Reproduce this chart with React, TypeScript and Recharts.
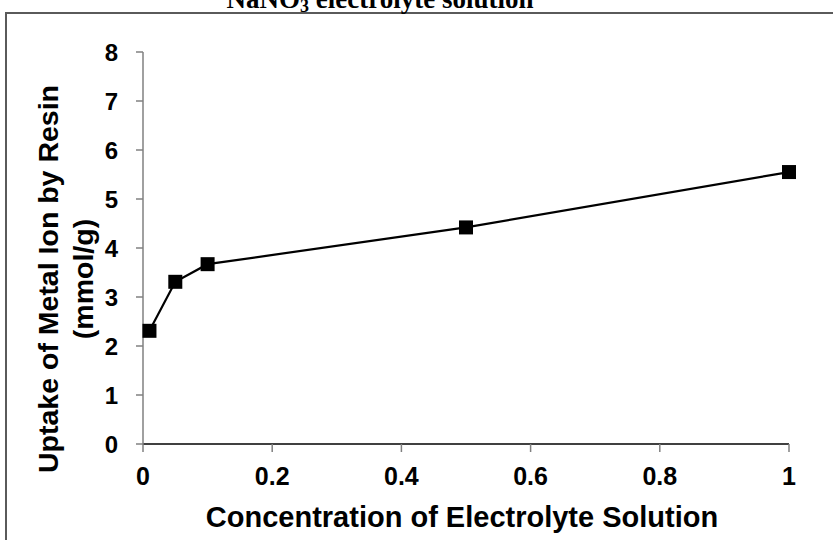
import React from "react";
import { LineChart, Line, XAxis, YAxis, Label } from "recharts";

// concentration of NaNO3 (x) vs uptake in mmol/g (y)
const concentrations = [0.01, 0.05, 0.1, 0.5, 1];
const uptake = [2.31, 3.31, 3.67, 4.42, 5.55];
const xTicks = [0, 0.2, 0.4, 0.6, 0.8, 1];
const yTicks = [0, 1, 2, 3, 4, 5, 6, 7, 8];

const data = concentrations.map((c, i) => ({ conc: c, uptake: uptake[i] }));

const sans = "'Liberation Sans', Arial, sans-serif";
const serif = "'Liberation Serif', 'Times New Roman', serif";

const SquareDot = (props: any) => {
  const { cx, cy } = props;
  if (cx == null || cy == null) return null;
  return <rect x={cx - 7} y={cy - 7} width={14} height={14} fill="#000" />;
};

const YTitle = (props: any) => {
  const vb = props.viewBox || { x: 0, y: 52, width: 143, height: 392 };
  const x = vb.x + 58;
  const cy = vb.y + vb.height / 2 + 31;
  return (
    <text
      transform={`rotate(-90, ${x}, ${cy})`}
      x={x}
      y={cy}
      textAnchor="middle"
      fontFamily={sans}
      fontWeight="bold"
      fontSize={28.5}
      fill="#000"
    >
      <tspan x={x} dy={0}>Uptake of Metal Ion by Resin</tspan>
      <tspan x={x} dy={35}>(mmol/g)</tspan>
    </text>
  );
};

export default function App() {
  return (
    <div
      style={{
        position: "absolute",
        left: 0,
        top: 0,
        width: 833,
        height: 540,
        overflow: "hidden",
        background: "#fff",
      }}
    >
      {/* outer frame, runs off the right and bottom edges */}
      <div
        style={{
          position: "absolute",
          left: 5,
          top: 12,
          width: 900,
          height: 600,
          border: "2px solid #5a5a5a",
        }}
      />
      <svg
        width={833}
        height={20}
        style={{ position: "absolute", left: 0, top: 0 }}
      >
        <text
          x={380}
          y={7.5}
          textAnchor="middle"
          fontFamily={serif}
          fontWeight="bold"
          fontSize={27}
          fill="#000"
        >
          NaNO
          <tspan fontSize={18} dy={4}>3</tspan>
          <tspan dy={-4}> electrolyte solution</tspan>
        </text>
      </svg>
      <div style={{ position: "absolute", left: 0, top: 0 }}>
        <LineChart
          width={833}
          height={540}
          data={data}
          margin={{ top: 52, right: 44, bottom: 0, left: 0 }}
        >
          <XAxis
            dataKey="conc"
            type="number"
            domain={[0, 1]}
            ticks={xTicks}
            height={96}
            stroke="#000"
            strokeWidth={1.5}
            tickSize={8}
            tickMargin={15}
            tickLine={{ stroke: "#808080" }}
            tick={{ fill: "#000", fontFamily: sans, fontWeight: "bold", fontSize: 25 }}
          >
            <Label
              value="Concentration of Electrolyte Solution"
              position="insideBottom"
              offset={13}
              dx={-4}
              fill="#000"
              fontFamily={sans}
              fontWeight="bold"
              fontSize={29}
            />
          </XAxis>
          <YAxis
            type="number"
            domain={[0, 8]}
            ticks={yTicks}
            width={143}
            stroke="#808080"
            strokeWidth={1.5}
            tickSize={7}
            tickMargin={18}
            tick={{ fill: "#000", fontFamily: sans, fontWeight: "bold", fontSize: 24 }}
          >
            <Label content={(p: any) => <YTitle {...p} />} />
          </YAxis>
          <Line
            type="linear"
            dataKey="uptake"
            stroke="#000"
            strokeWidth={2.2}
            dot={<SquareDot />}
            activeDot={false}
            isAnimationActive={false}
          />
        </LineChart>
      </div>
    </div>
  );
}
